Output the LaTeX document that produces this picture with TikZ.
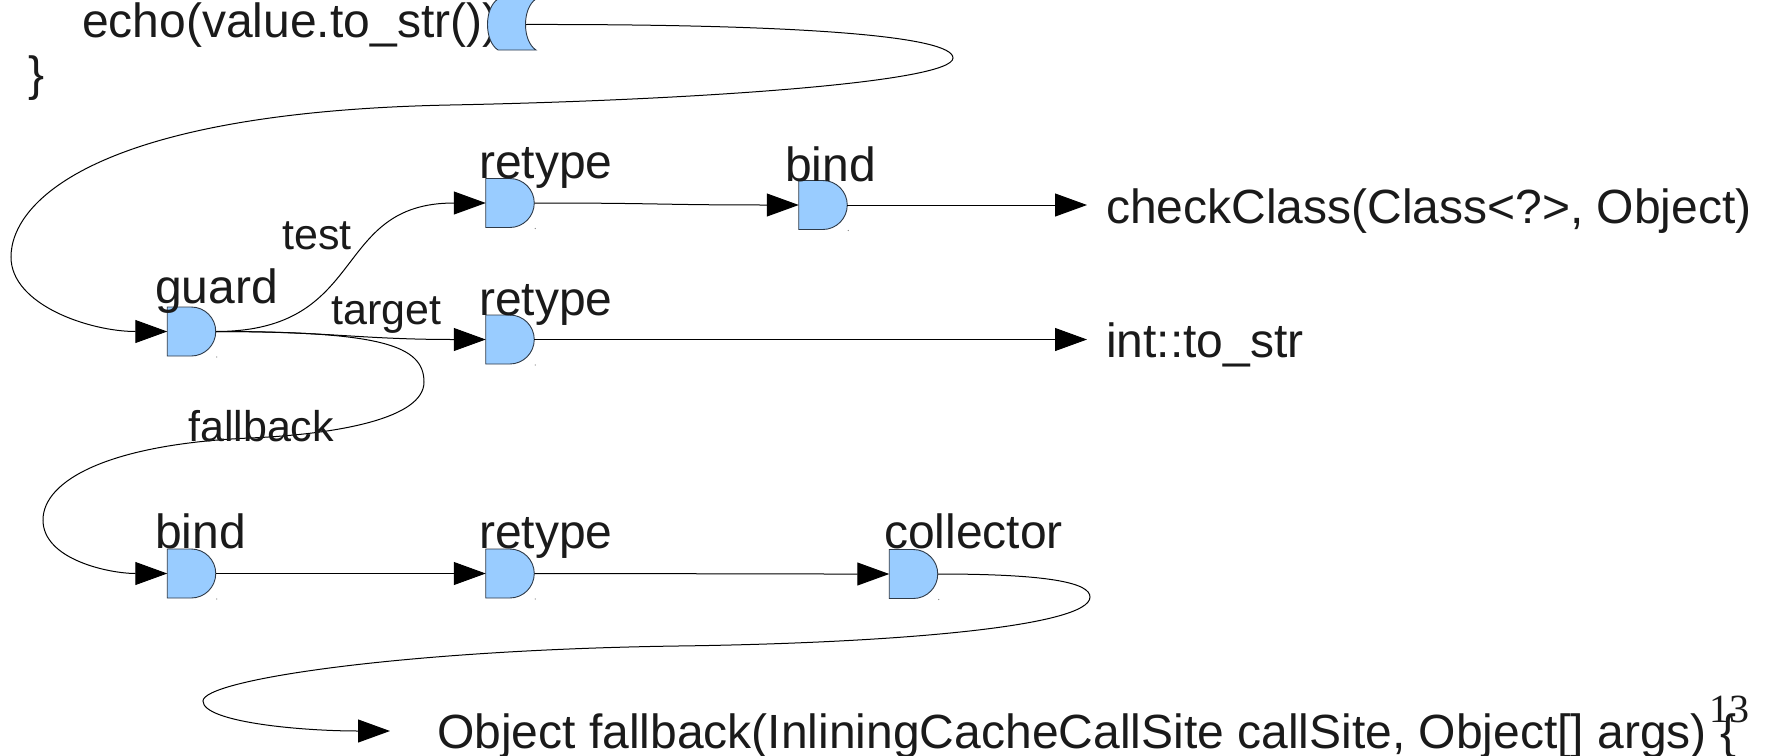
\documentclass[tikz,border=0pt]{standalone}
\usepackage{fontspec}
\setmainfont{Liberation Sans}
\newfontfamily\numfont{Liberation Serif}
\usetikzlibrary{arrows.meta}

\definecolor{gatefill}{HTML}{99CCFF}
\definecolor{gateedge}{HTML}{2E3A48}
\definecolor{ink}{HTML}{1A1A1A}

% D-shaped gate: flat left side, half circle on the right
\makeatletter
\pgfdeclareshape{dgate}{%
  \inheritsavedanchors[from=rectangle]%
  \inheritanchorborder[from=rectangle]%
  \inheritanchor[from=rectangle]{center}%
  \inheritanchor[from=rectangle]{north}%
  \inheritanchor[from=rectangle]{south}%
  \inheritanchor[from=rectangle]{east}%
  \inheritanchor[from=rectangle]{west}%
  \inheritanchor[from=rectangle]{north east}%
  \inheritanchor[from=rectangle]{north west}%
  \inheritanchor[from=rectangle]{south east}%
  \inheritanchor[from=rectangle]{south west}%
  \backgroundpath{%
    \southwest \edef\dg@xa{\the\pgf@x}\edef\dg@ya{\the\pgf@y}%
    \northeast \edef\dg@xb{\the\pgf@x}\edef\dg@yb{\the\pgf@y}%
    \pgf@xc=\dg@yb \advance\pgf@xc by -\dg@ya \pgf@xc=.5\pgf@xc
    \edef\dg@r{\the\pgf@xc}%
    \pgf@yc=\dg@xb \advance\pgf@yc by -\pgf@xc
    \edef\dg@xm{\the\pgf@yc}%
    \pgfpathmoveto{\pgfqpoint{\dg@xa}{\dg@ya}}%
    \pgfpathlineto{\pgfqpoint{\dg@xa}{\dg@yb}}%
    \pgfpathlineto{\pgfqpoint{\dg@xm}{\dg@yb}}%
    \pgfpatharc{90}{-90}{\dg@r}%
    \pgfpathclose
  }%
}
\makeatother

\begin{document}
\begin{tikzpicture}[x=1pt,y=-1pt,
  gate/.style={shape=dgate, draw=gateedge, fill=gatefill, line width=0.9pt,
    minimum width=48.5pt, minimum height=49pt, inner sep=0pt, outer sep=0pt},
  big/.style={font=\fontsize{48}{56}\selectfont, text=ink, inner sep=0pt, anchor=base west},
  small/.style={font=\fontsize{43}{50}\selectfont, text=ink, inner sep=0pt, anchor=base west},
  wire/.style={draw=black, line width=1pt},
  flow/.style={wire, -{Triangle[length=32pt,width=23pt]}},
]
\useasboundingbox[fill=white] (0,0) rectangle (1772,755);

% code text
\node[big] (echo) at (82,37) {echo(value.to\_str())};
\node[big] (brace) at (28,90) {\}};
\node[big] (checkclass) at (1106,223) {checkClass(Class<?>, Object)};
\node[big] (tostr) at (1106,357) {int::to\_str};
\node[big] (fallbacksig) at (437,748) {Object fallback(InliningCacheCallSite callSite, Object[] args) \{};
\node[font=\numfont\fontsize{40}{46}\selectfont, text=ink, inner sep=0pt, anchor=base west] (pagenum) at (1709,722) {13};

% connector end points beside the code text
\coordinate (echoout) at (526,24.5);
\coordinate (ccend) at (1087,205);
\coordinate (tostrend) at (1087,339.5);
\coordinate (sigend) at (390,731);

% gates
\node[gate] (guard) at (191.5,331.5) {};
\node[gate] (retypeA) at (510,203) {};
\node[gate] (bindA) at (823,205) {};
\node[gate] (retypeB) at (510,339.5) {};
\node[gate] (bindB) at (191.5,573.5) {};
\node[gate] (retypeC) at (510,573.5) {};
\node[gate] (collector) at (913.5,574) {};
\foreach \g in {guard,retypeA,bindA,retypeB,bindB,retypeC,collector}
  \fill[gray] ([xshift=1pt,yshift=-1pt]\g.south east) circle[radius=0.7pt];

% call-site end of the echo line
\filldraw[draw=gateedge, fill=gatefill, line width=0.9pt]
  (498,-1) .. controls (484,8) and (484,41) .. (498,50) -- (536,50)
  .. controls (522,41) and (522,8) .. (536,-1) -- cycle;

% gate names
\node[big] (guardlbl) at (155,303) {guard};
\node[big] (retypeAlbl) at (479,178) {retype};
\node[big] (bindAlbl) at (785,181) {bind};
\node[big] (retypeBlbl) at (479,315) {retype};
\node[big] (bindBlbl) at (155,548) {bind};
\node[big] (retypeClbl) at (479,548) {retype};
\node[big] (collectorlbl) at (884,548) {collector};

% connectors
\draw[flow] (echoout) .. controls (800,24) and (953,36) .. (953,58)
  .. controls (953,82) and (700,100) .. (450,105)
  .. controls (100,112) and (11,200) .. (11,257)
  .. controls (11,305) and (90,331.5) .. (guard.west);
\draw[flow] (guard.east) .. controls (370,331.5) and (330,203) .. (retypeA.west);
\draw[flow] (guard.east) .. controls (330,331.5) and (360,339.5) .. (retypeB.west);
\draw[flow] (guard.east) .. controls (380,331.5) and (424,345) .. (424,382)
  .. controls (424,418) and (340,434) .. (250,438)
  .. controls (110,444) and (43,480) .. (43,520)
  .. controls (43,560) and (110,573.5) .. (bindB.west);
\draw[flow] (retypeA.east) .. controls (660,203) and (660,205) .. (bindA.west);
\draw[flow] (bindA.east) -- (ccend);
\draw[flow] (retypeB.east) -- (tostrend);
\draw[flow] (bindB.east) -- (retypeC.west);
\draw[flow] (retypeC.east) .. controls (700,573.5) and (700,574) .. (collector.west);
\draw[flow] (collector.east) .. controls (1050,574) and (1090,583) .. (1090,597)
  .. controls (1090,626) and (900,643) .. (678,646)
  .. controls (400,650) and (203,680) .. (203,701)
  .. controls (203,722) and (300,731) .. (sigend);

% edge labels
\node[small] (testlbl) at (282,249) {test};
\node[small] (targetlbl) at (331,324) {target};
\node[small] (fallbacklbl) at (188,441) {fallback};
\end{tikzpicture}
\end{document}
